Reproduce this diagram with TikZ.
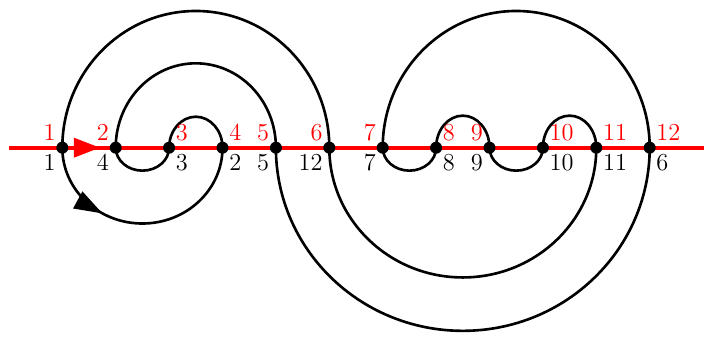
\documentclass[tikz,border=0pt]{standalone}
\usepackage{tikz}
\usetikzlibrary{arrows.meta,decorations.markings}

\begin{document}
\begin{tikzpicture}[
  font=\fontsize{13}{15}\selectfont,
  pt/.style={circle, fill=black, inner sep=0pt, minimum size=6.4pt},
  lb/.style={inner sep=1pt},
  curve/.style={line width=1.4pt},
  axis/.style={red, line width=2.2pt},
  flow/.style={postaction={decorate}, decoration={markings,
      mark=at position 0.33 with {\arrow{Triangle[length=15pt,width=10pt]}}}}]
\useasboundingbox (-0.167,-3.545) rectangle (13.017,2.766);
% crossing points on the line
\foreach \i in {1,...,12} \coordinate (c\i) at (\i,0);
\coordinate (l) at (0,0); \coordinate (r) at (13.02,0);
\coordinate (tip) at (1.71,0);
\draw[axis] (l) -- (r);
\draw[axis, -{Triangle[length=14pt,width=10pt]}] (c1) -- (tip);
% upper arcs
\draw[curve] (c1) arc[start angle=180, end angle=0, x radius=2.5, y radius=2.56];
\draw[curve] (c2) arc[start angle=180, end angle=0, x radius=1.5, y radius=1.58];
\draw[curve] (c3) arc[start angle=180, end angle=0, x radius=0.5, y radius=0.58];
\draw[curve] (c7) arc[start angle=180, end angle=0, x radius=2.5, y radius=2.56];
\draw[curve] (c8) arc[start angle=180, end angle=0, x radius=0.5, y radius=0.6];
\draw[curve] (c10) arc[start angle=180, end angle=0, x radius=0.5, y radius=0.6];
% lower arcs
\draw[curve, flow] (c1) arc[start angle=180, end angle=360, x radius=1.5, y radius=1.42];
\draw[curve] (c2) arc[start angle=180, end angle=360, x radius=0.5, y radius=0.43];
\draw[curve] (c5) arc[start angle=180, end angle=360, x radius=3.5, y radius=3.43];
\draw[curve] (c6) arc[start angle=180, end angle=360, x radius=2.5, y radius=2.43];
\draw[curve] (c7) arc[start angle=180, end angle=360, x radius=0.5, y radius=0.43];
\draw[curve] (c9) arc[start angle=180, end angle=360, x radius=0.5, y radius=0.43];
% dots and labels
\foreach \i/\a/\b/\s in {1/1/1/left, 2/2/4/left, 3/3/3/right, 4/4/2/right,
    5/5/5/left, 6/6/12/left, 7/7/7/left, 8/8/8/right, 9/9/9/left,
    10/10/10/right, 11/11/11/right, 12/12/6/right}
  \node[pt, label={[lb,red]above \s:\a}, label={[lb]below \s:\b}] (p\i) at (c\i) {};
\end{tikzpicture}
\end{document}
